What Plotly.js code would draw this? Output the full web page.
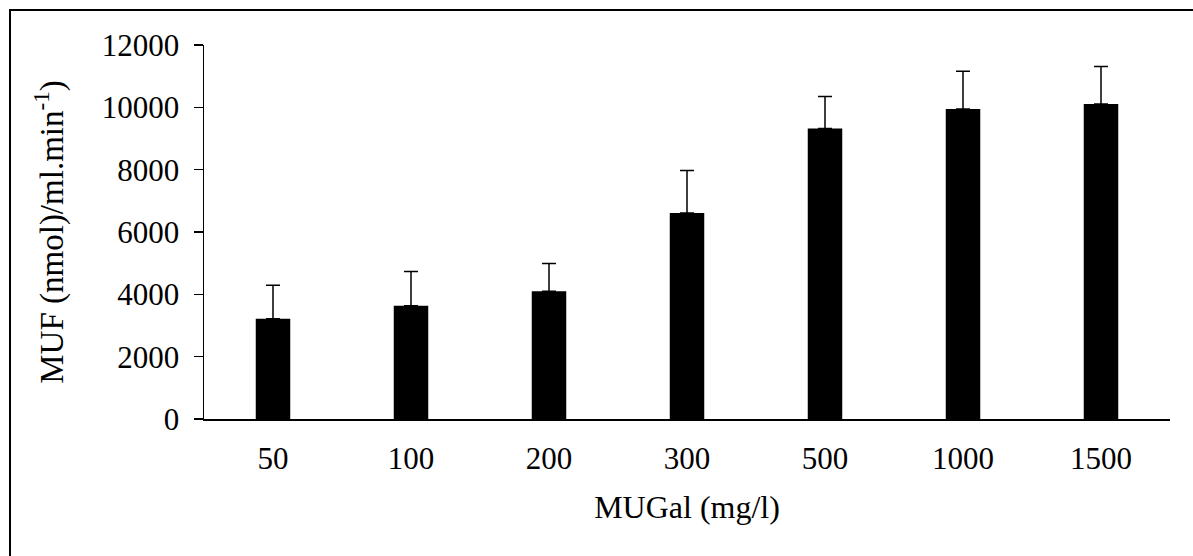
<!DOCTYPE html>
<html>
<head>
<meta charset="utf-8">
<script src="https://cdn.plot.ly/plotly-3.0.1.min.js"></script>
<style>html,body{margin:0;padding:0;background:#fff;}</style>
</head>
<body>
<div id="chart" style="width:1193px;height:556px;"></div>
<script>
const categories = ["50", "100", "200", "300", "500", "1000", "1500"];
const mufValues = [3220, 3630, 4100, 6610, 9320, 9950, 10110];
const mufErrors = [1070, 1100, 890, 1360, 1030, 1210, 1200];
const yTickValues = [0, 2000, 4000, 6000, 8000, 10000, 12000];

const FONT = "Liberation Serif, Times New Roman, serif";
const FS = 31;

const trace = {
  type: "bar",
  x: categories,
  y: mufValues,
  width: 0.25,
  marker: {color: "#000000", line: {width: 0}},
  error_y: {
    type: "data",
    symmetric: false,
    array: mufErrors,
    arrayminus: mufErrors.map(() => 0),
    color: "#000000",
    thickness: 1.5,
    width: 7
  },
  hoverinfo: "skip"
};

const layout = {
  width: 1193,
  height: 556,
  margin: {l: 204, r: 23, t: 45, b: 137},
  paper_bgcolor: "#ffffff",
  plot_bgcolor: "#ffffff",
  showlegend: false,
  font: {family: FONT, color: "#000000", size: FS},
  xaxis: {
    type: "category",
    showline: true,
    linecolor: "#000000",
    linewidth: 1.5,
    showgrid: false,
    zeroline: false,
    ticks: "",
    ticklabelstandoff: 11,
    tickfont: {family: FONT, size: FS, color: "#000000"},
    title: {text: "MUGal (mg/l)", font: {family: FONT, size: 32, color: "#000000"}, standoff: 21}
  },
  yaxis: {
    range: [0, 12000],
    tickvals: yTickValues,
    ticktext: yTickValues.map(String),
    showline: true,
    linecolor: "#000000",
    linewidth: 1.5,
    showgrid: false,
    zeroline: false,
    ticks: "outside",
    ticklen: 9,
    tickwidth: 1.5,
    tickcolor: "#000000",
    ticklabelstandoff: 8,
    tickfont: {family: FONT, size: FS, color: "#000000"},
    title: {text: "MUF (nmol)/ml.min<sup>-1</sup>)", font: {family: FONT, size: 33, color: "#000000"}, standoff: 28}
  },
  shapes: [{
    type: "rect",
    xref: "paper", yref: "paper",
    x0: (10 - 204) / 966, x1: 1.2,
    y0: -0.6, y1: (419 - 10) / 374,
    line: {color: "#000000", width: 2},
    fillcolor: "rgba(0,0,0,0)",
    layer: "below"
  }]
};

Plotly.newPlot("chart", [trace], layout, {staticPlot: true, displayModeBar: false});
</script>
</body>
</html>
